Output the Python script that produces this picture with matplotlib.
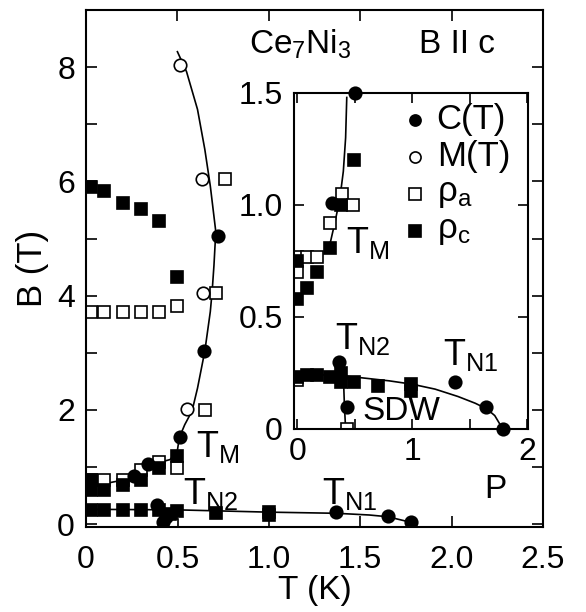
import matplotlib
matplotlib.use('Agg')
import matplotlib.pyplot as plt
from matplotlib.ticker import MultipleLocator, FixedLocator, FixedFormatter

plt.rcParams['font.family'] = ['Liberation Sans', 'DejaVu Sans']
plt.rcParams['mathtext.fontset'] = 'custom'
plt.rcParams['mathtext.rm'] = 'Liberation Sans'
plt.rcParams['mathtext.it'] = 'Liberation Sans:italic'

# ---- main panel: B (T) vs T (K)
c_T = [0.72, 0.645, 0.514, 0.34, 0.26, 0.39, 0.42, 0.44, 1.37, 1.65, 1.78]
c_B = [5.05, 3.03, 1.53, 1.05, 0.84, 0.34, 0.03, 0.12, 0.21, 0.14, 0.03]

m_T = [0.514, 0.635, 0.64, 0.55]
m_B = [8.04, 6.04, 4.04, 2.02]

ra_T = [0.76, 0.71, 0.03, 0.10, 0.20, 0.30, 0.40, 0.50, 0.65, 0.50, 0.40, 0.30, 0.03, 0.10, 0.20, 0.47]
ra_B = [6.04, 4.04, 3.72, 3.72, 3.72, 3.72, 3.72, 3.81, 2.00, 0.99, 1.08, 0.95, 0.78, 0.78, 0.78, -0.02]

rc_T = [0.03, 0.10, 0.20, 0.30, 0.40, 0.50, 0.50, 0.40, 0.30, 0.03, 0.03, 0.10, 0.20,
        0.03, 0.10, 0.20, 0.30, 0.40, 0.46, 0.50, 0.71, 1.00, 1.00]
rc_B = [5.90, 5.83, 5.62, 5.52, 5.30, 4.33, 1.20, 0.99, 0.78, 0.78, 0.60, 0.60, 0.68,
        0.24, 0.24, 0.24, 0.24, 0.24, 0.18, 0.23, 0.19, 0.21, 0.16]

tm_line_T = [0.50, 0.55, 0.61, 0.65, 0.68, 0.71, 0.70, 0.69, 0.68, 0.65, 0.61, 0.58, 0.54, 0.51,
             0.50, 0.46, 0.35, 0.26, 0.20, 0.12]
tm_line_B = [8.27, 7.92, 7.26, 6.56, 5.92, 5.12, 4.53, 4.07, 3.72, 3.03, 2.38, 1.98, 1.74, 1.51,
             1.29, 1.13, 1.04, 0.90, 0.77, 0.72]

tn_line_T = [0.0, 0.5, 1.0, 1.37, 1.55, 1.65, 1.78]
tn_line_B = [0.26, 0.25, 0.21, 0.19, 0.16, 0.13, 0.03]

x_ticks = [0, 0.5, 1.0, 1.5, 2.0, 2.5]
x_labels = ['0', '0.5', '1.0', '1.5', '2.0', '2.5']
y_ticks = [0, 2, 4, 6, 8]
y_labels = ['0', '2', '4', '6', '8']

# ---- inset: low field part
ic_T = [0.50, 0.30, 0.36, 0.43, 1.37, 1.64, 1.79]
ic_B = [1.50, 1.01, 0.30, 0.10, 0.21, 0.10, 0.00]

ira_T = [0.39, 0.48, 0.28, 0.00, 0.08, 0.17, 0.00, 0.43, 0.00]
ira_B = [1.05, 1.00, 0.92, 0.77, 0.77, 0.77, 0.70, 0.00, 0.22]

irc_T = [0.49, 0.38, 0.28, 0.00, 0.17, 0.08, 0.00,
         0.00, 0.08, 0.17, 0.28, 0.38, 0.38, 0.49, 0.70, 0.99, 0.99]
irc_B = [1.20, 1.00, 0.81, 0.75, 0.70, 0.63, 0.58,
         0.23, 0.24, 0.24, 0.23, 0.25, 0.21, 0.21, 0.19, 0.20, 0.17]

itm_line_T = [0.43, 0.42, 0.40, 0.37, 0.33, 0.29, 0.26]
itm_line_B = [1.48, 1.30, 1.15, 1.03, 0.93, 0.84, 0.79]

itn_line_T = [0.0, 0.3, 0.5, 0.8, 1.0, 1.2, 1.4, 1.55, 1.65, 1.72, 1.79]
itn_line_B = [0.245, 0.24, 0.232, 0.215, 0.20, 0.178, 0.145, 0.115, 0.09, 0.06, 0.0]

iv_line_T = [0.40, 0.41, 0.42]
iv_line_B = [0.24, 0.10, 0.0]

ix_ticks = [0, 1, 2]
ix_labels = ['0', '1', '2']
iy_ticks = [0, 0.5, 1.0, 1.5]
iy_labels = ['0', '0.5', '1.0', '1.5']

circ = dict(marker='o', ms=9, mew=1.2, mec='k', ls='none')
sq = dict(marker='s', ms=8.5, mew=1.2, mec='k', ls='none')

fig = plt.figure(figsize=(5.86, 6.12), dpi=100)
ax = fig.add_axes([86/586, 85/612, 457/586, 517/612])

ax.plot(tm_line_T, tm_line_B, color='k', lw=1.2)
ax.plot(tn_line_T, tn_line_B, color='k', lw=1.2)
ax.plot(ra_T, ra_B, mfc='white', **sq)
ax.plot(rc_T, rc_B, mfc='k', **sq)
ax.plot(m_T, m_B, mfc='white', **circ)
ax.plot(c_T, c_B, mfc='k', **circ)

ax.set_xlim(0, 2.5)
ax.set_ylim(-0.05, 9)
ax.xaxis.set_major_locator(FixedLocator(x_ticks))
ax.xaxis.set_major_formatter(FixedFormatter(x_labels))
ax.yaxis.set_major_locator(FixedLocator(y_ticks))
ax.yaxis.set_major_formatter(FixedFormatter(y_labels))
ax.yaxis.set_minor_locator(MultipleLocator(1))
ax.tick_params(which='both', direction='in', top=True, right=True, width=1.2)
ax.tick_params(which='major', length=8, labelsize=23)
ax.tick_params(which='minor', length=8)
ax.tick_params(axis='x', pad=13)
ax.tick_params(axis='y', pad=8)
for s in ax.spines.values():
    s.set_linewidth(1.5)
ax.set_xlabel('T (K)', fontsize=24, labelpad=0)
ax.set_ylabel('B (T)', fontsize=25, labelpad=6)

ax.text(1.17, 8.4, r'Ce$_\mathrm{7}$Ni$_\mathrm{3}$', fontsize=24, ha='center', va='center')
ax.text(2.03, 8.4, 'B II c', fontsize=24, ha='center', va='center')
ax.text(0.60, 1.35, r'T$_\mathrm{M}$', fontsize=26, ha='left', va='center')
ax.text(0.53, 0.52, r'T$_\mathrm{N2}$', fontsize=26, ha='left', va='center')
ax.text(1.29, 0.52, r'T$_\mathrm{N1}$', fontsize=26, ha='left', va='center')
ax.text(2.24, 0.60, 'P', fontsize=24, ha='center', va='center')

# inset
ins = fig.add_axes([294/586, 183/612, 234/586, 336/612])
ins.set_facecolor('white')
ins.plot(itm_line_T, itm_line_B, color='k', lw=1.2)
ins.plot(itn_line_T, itn_line_B, color='k', lw=1.2)
ins.plot(iv_line_T, iv_line_B, color='k', lw=1.2)
ins.plot(ira_T, ira_B, mfc='white', **sq)
ins.plot(irc_T, irc_B, mfc='k', **sq)
ins.plot(ic_T, ic_B, mfc='k', clip_on=False, **circ)

ins.set_xlim(-0.03, 2.01)
ins.set_ylim(0, 1.5)
ins.xaxis.set_major_locator(FixedLocator(ix_ticks))
ins.xaxis.set_major_formatter(FixedFormatter(ix_labels))
ins.xaxis.set_minor_locator(MultipleLocator(0.5))
ins.yaxis.set_major_locator(FixedLocator(iy_ticks))
ins.yaxis.set_major_formatter(FixedFormatter(iy_labels))
ins.tick_params(which='both', direction='in', top=True, right=True, width=1.2, length=7)
ins.tick_params(which='major', labelsize=23)
ins.tick_params(axis='x', pad=6)
ins.tick_params(axis='y', pad=8)
for s in ins.spines.values():
    s.set_linewidth(1.5)

ins.text(0.42, 0.83, r'T$_\mathrm{M}$', fontsize=26, ha='left', va='center')
ins.text(0.33, 0.40, r'T$_\mathrm{N2}$', fontsize=26, ha='left', va='center')
ins.text(1.27, 0.33, r'T$_\mathrm{N1}$', fontsize=26, ha='left', va='center')
ins.text(0.57, 0.08, 'SDW', fontsize=24, ha='left', va='center')

# legend
leg_y = [0.92, 0.81, 0.70, 0.59]
leg_lab = ['C(T)', 'M(T)', r'ρ$_\mathrm{a}$', r'ρ$_\mathrm{c}$']
leg_style = [dict(marker='o', mfc='k'), dict(marker='o', mfc='white'),
             dict(marker='s', mfc='white'), dict(marker='s', mfc='k')]
for yy, lab, st in zip(leg_y, leg_lab, leg_style):
    ins.plot([0.515], [yy], transform=ins.transAxes, ms=8, mew=1.2, mec='k', ls='none', **st)
    ins.text(0.61, yy, lab, transform=ins.transAxes, fontsize=25, ha='left', va='center')

fig.savefig('out.png', dpi=100)
